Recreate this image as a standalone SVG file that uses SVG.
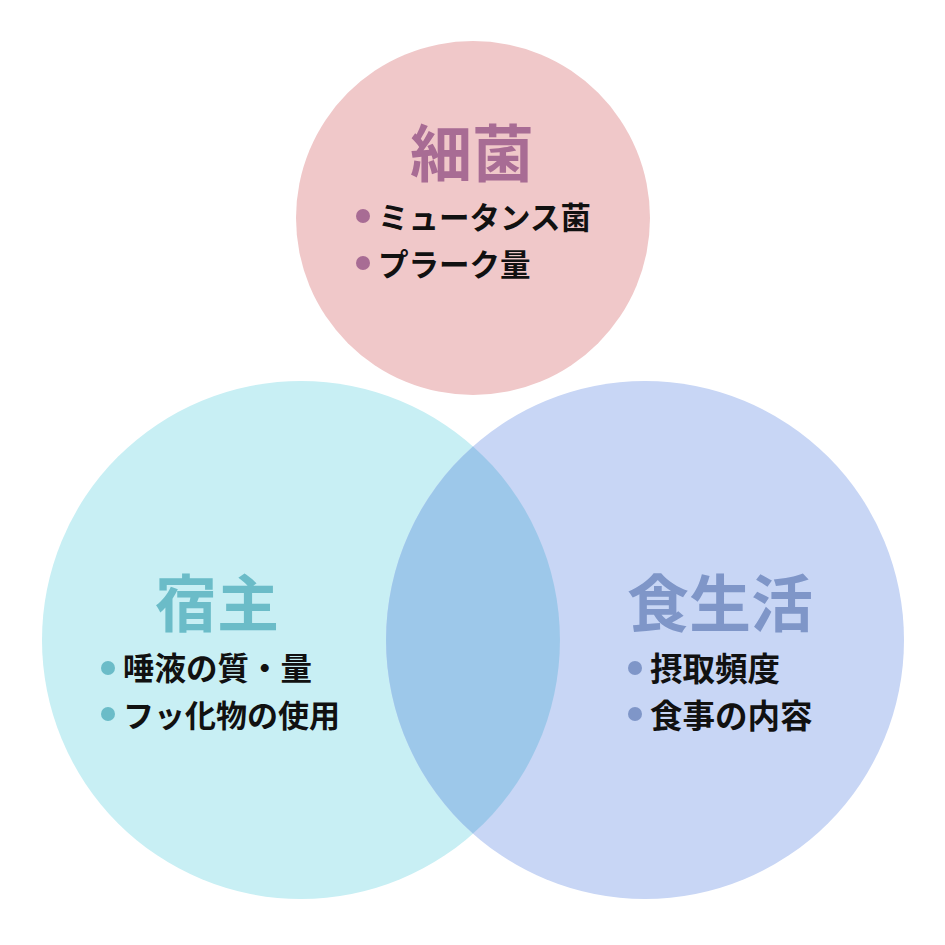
<svg xmlns="http://www.w3.org/2000/svg" width="945" height="945" viewBox="0 0 945 945">
<style>
.title{font-family:"Noto Sans CJK JP","Noto Sans CJK SC",sans-serif;font-weight:700;font-size:62px;text-anchor:middle}
.item{font-family:"Noto Sans CJK JP","Noto Sans CJK SC",sans-serif;font-weight:700;font-size:31px;fill:#111}
.big{font-size:32.5px}
.small{font-size:30.5px}
</style>
<rect width="945" height="945" fill="#ffffff"/>
<g id="bacteria">
<circle cx="473" cy="218" r="177" fill="#f0c8c9"/>
<text class="title" x="472" y="177" fill="#a86c94">細菌</text>
<circle cx="363" cy="216" r="7" fill="#a86c94"/>
<text class="item small" x="378" y="229">ミュータンス菌</text>
<circle cx="363" cy="263" r="7" fill="#a86c94"/>
<text class="item small" x="378" y="276">プラーク量</text>
</g>
<g id="host">
<circle cx="301" cy="640" r="259" fill="#c8eff4"/>
</g>
<g id="diet">
<circle cx="645" cy="640" r="259" fill="#c8d6f5"/>
</g>
<g id="overlap">
<path d="M473,446.4 A259,259 0 0 1 473,833.6 A259,259 0 0 1 473,446.4 Z" fill="#9dc8ea"/>
</g>
<g id="host-text">
<text class="title" x="217" y="627" fill="#6bbcc8">宿主</text>
<circle cx="108" cy="668" r="7" fill="#6bbcc8"/>
<text class="item" x="123" y="680" style="font-size:31.5px">唾液の質・量</text>
<circle cx="108" cy="714" r="7" fill="#6bbcc8"/>
<text class="item" x="123" y="727">フッ化物の使用</text>
</g>
<g id="diet-text">
<text class="title" x="720" y="627" fill="#7f96c8">食生活</text>
<circle cx="635" cy="668" r="7" fill="#7f96c8"/>
<text class="item big" x="650" y="681">摂取頻度</text>
<circle cx="635" cy="714" r="7" fill="#7f96c8"/>
<text class="item big" x="650" y="728">食事の内容</text>
</g>
<g id="connectors"></g>
</svg>
